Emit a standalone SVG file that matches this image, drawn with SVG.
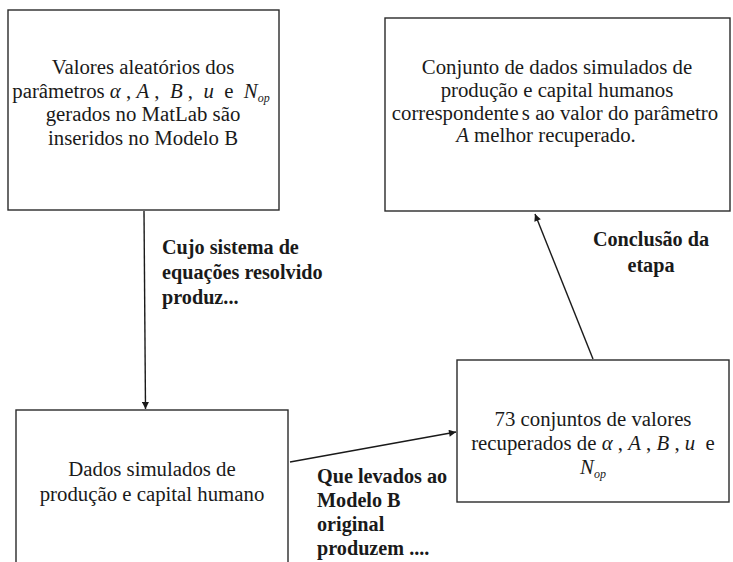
<svg xmlns="http://www.w3.org/2000/svg" width="733" height="562" viewBox="0 0 733 562">
<defs>
<style>
.box{fill:#fff;stroke:#2a2a2a;stroke-width:1.4}
.t{font-family:"Liberation Serif","Times New Roman",serif;font-size:20.8px;fill:#1a1a1a;text-anchor:middle}
.b{font-family:"Liberation Serif","Times New Roman",serif;font-size:20.2px;font-weight:bold;fill:#1a1a1a}
.m{font-style:italic}
.s{font-style:italic;font-size:12px}
.c{stroke:#1a1a1a;stroke-width:1.4;fill:none;marker-end:url(#ah)}
</style>
<marker id="ah" viewBox="0 0 10 10" refX="10" refY="5" markerWidth="8" markerHeight="7" markerUnits="userSpaceOnUse" orient="auto">
<path d="M0,0 L10,5 L0,10 z" fill="#1a1a1a"/>
</marker>
</defs>
<rect width="733" height="562" fill="#fff"/>
<g id="node1">
<rect class="box" x="8" y="10" width="271" height="200"/>
<text class="t" x="143" y="74">Valores aleatórios dos</text>
<text class="t" x="141" y="97.5" xml:space="preserve">parâmetros <tspan class="m">α</tspan> , <tspan class="m">A</tspan> ,  <tspan class="m">B</tspan> ,  <tspan class="m">u</tspan>  e  <tspan class="m">N</tspan><tspan class="s" dy="4">op</tspan></text>
<text class="t" x="143" y="121">gerados no MatLab são</text>
<text class="t" x="143" y="144.5">inseridos no Modelo B</text>
</g>
<g id="node2">
<rect class="box" x="385" y="18" width="345" height="193"/>
<text class="t" x="557" y="74">Conjunto de dados simulados de</text>
<text class="t" x="557" y="97">produção e capital humanos</text>
<text class="t" x="555" y="119.5">correspondente<tspan dx="3">s</tspan> ao valor do parâmetro</text>
<text class="t" x="546" y="142" xml:space="preserve"><tspan class="m">A</tspan> melhor recuperado.</text>
</g>
<g id="node3">
<rect class="box" x="16" y="410" width="272" height="170"/>
<text class="t" x="152" y="476">Dados simulados de</text>
<text class="t" x="152" y="500.5">produção e capital humano</text>
</g>
<g id="node4">
<rect class="box" x="457" y="360" width="272" height="142"/>
<text class="t" x="593" y="426">73 conjuntos de valores</text>
<text class="t" x="593" y="450" xml:space="preserve">recuperados de <tspan class="m">α</tspan> , <tspan class="m">A</tspan> , <tspan class="m">B</tspan> , <tspan class="m">u</tspan>  e</text>
<text class="t" x="593" y="474"><tspan class="m">N</tspan><tspan class="s" dy="4">op</tspan></text>
</g>
<g id="connectors">
<line class="c" x1="144" y1="211" x2="145.5" y2="409"/>
<line class="c" x1="290" y1="462" x2="456" y2="432"/>
<line class="c" x1="593" y1="359" x2="535" y2="214"/>
</g>
<g id="labels">
<text class="b" x="162" y="254">Cujo sistema de</text>
<text class="b" x="162" y="279">equações resolvido</text>
<text class="b" x="162" y="304">produz...</text>
<text class="b" x="651" y="246" text-anchor="middle">Conclusão da</text>
<text class="b" x="651" y="272" text-anchor="middle">etapa</text>
<text class="b" x="317" y="483">Que levados ao</text>
<text class="b" x="317" y="507">Modelo B</text>
<text class="b" x="317" y="531">original</text>
<text class="b" x="317" y="555">produzem ....</text>
</g>
</svg>
